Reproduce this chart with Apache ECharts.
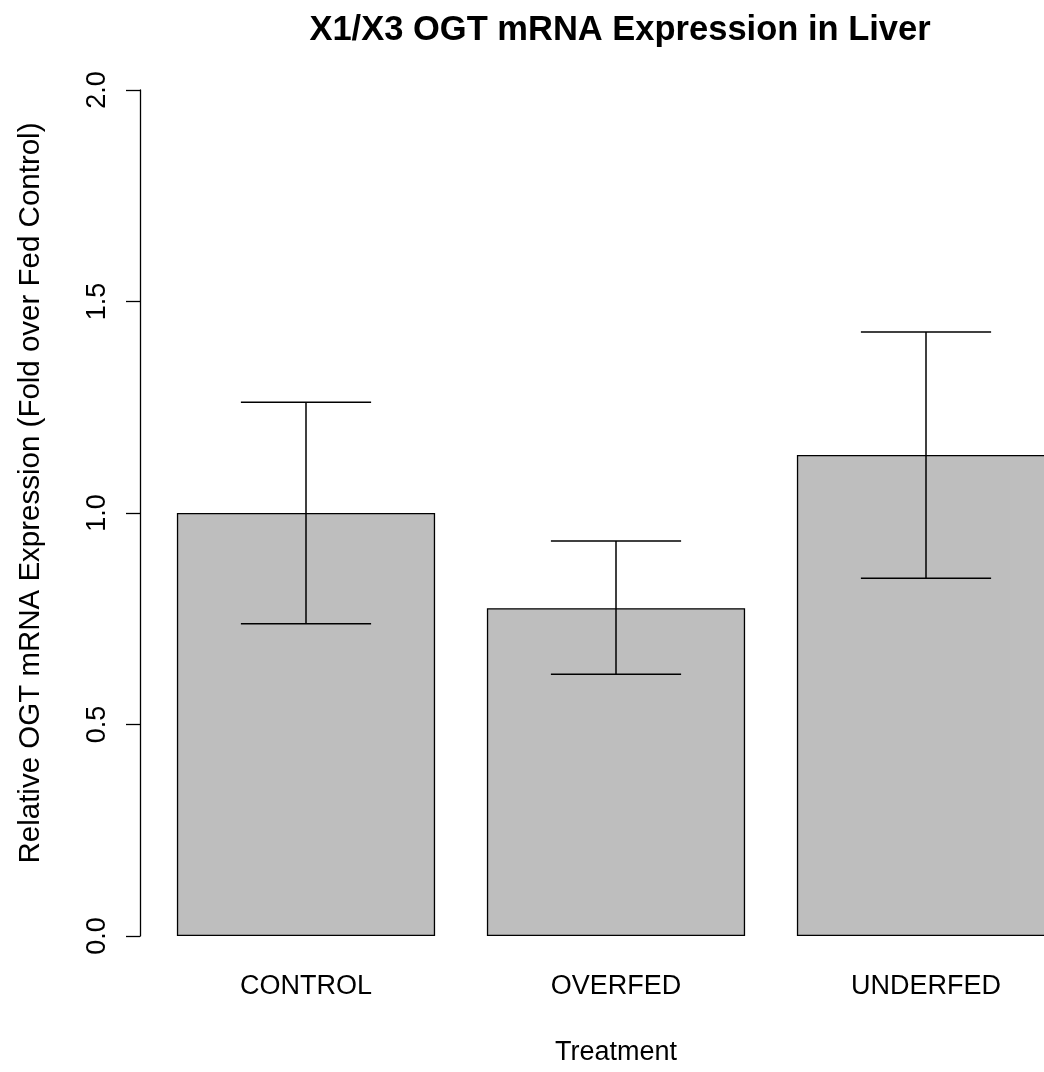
<!DOCTYPE html>
<html>
<head>
<meta charset="utf-8">
<script src="https://cdn.jsdelivr.net/npm/echarts@6/dist/echarts.min.js"></script>
<style>
  html, body { margin: 0; padding: 0; background: #fff; }
  #chart { width: 1044px; height: 1072px; }
</style>
</head>
<body>
<div id="chart"></div>
<script>
// values
const categories = ['CONTROL', 'OVERFED', 'UNDERFED'];
const means = [1.0, 0.775, 1.137];
const errLow = [0.738, 0.619, 0.846];
const errHigh = [1.262, 0.934, 1.428];
const yTicks = [0, 0.5, 1.0, 1.5, 2.0];

const FONT = "'Liberation Sans', Arial, sans-serif";

const errData = categories.map((c, i) => [i, errLow[i], errHigh[i]]);

const chart = echarts.init(document.getElementById('chart'));

const option = {
    backgroundColor: '#fff',
    animation: false,
    title: {
        text: 'X1/X3 OGT mRNA Expression in Liver',
        left: 615,
        top: 8,
        textAlign: 'center',
        textStyle: { fontFamily: FONT, fontSize: 34.5, fontWeight: 'bold', color: '#000' }
    },
    graphic: [{
        type: 'text',
        x: 31,
        y: 493,
        rotation: Math.PI / 2,
        style: {
            text: 'Relative OGT mRNA Expression (Fold over Fed Control)',
            fontFamily: FONT,
            fontSize: 29.5,
            fill: '#000',
            align: 'center',
            verticalAlign: 'middle'
        }
    }],
    grid: { left: 151, right: -37, top: 90, bottom: 136, outerBoundsMode: 'none', containLabel: false },
    xAxis: {
        type: 'category',
        data: categories,
        name: 'Treatment',
        nameLocation: 'middle',
        nameGap: 103,
        nameTextStyle: { fontFamily: FONT, fontSize: 27, color: '#000', verticalAlign: 'top' },
        axisLine: { show: false },
        axisTick: { show: false },
        axisLabel: { margin: 37, fontFamily: FONT, fontSize: 27, color: '#000', verticalAlign: 'top' }
    },
    yAxis: {
        type: 'value',
        min: 0,
        max: 2,
        interval: 0.5,
        offset: 11,
        splitLine: { show: false },
        axisLine: { show: true, lineStyle: { color: '#000', width: 1.3 } },
        axisTick: { show: true, length: 14, lineStyle: { color: '#000', width: 1.3 } },
        axisLabel: {
            rotate: 90,
            margin: 29,
            fontFamily: FONT,
            fontSize: 27,
            color: '#000',
            formatter: v => yTicks.includes(v) ? v.toFixed(1) : ''
        }
    },
    series: [
        {
            type: 'bar',
            data: means,
            barWidth: '83.3%',
            itemStyle: { color: '#bebebe', borderColor: '#000', borderWidth: 1.3 }
        },
        {
            type: 'custom',
            data: errData,
            z: 10,
            renderItem: (params, api) => {
                const lo = api.coord([api.value(0), api.value(1)]);
                const hi = api.coord([api.value(0), api.value(2)]);
                const half = api.size([1, 0])[0] * 0.21;
                const style = { stroke: '#000', lineWidth: 1.5 };
                return {
                    type: 'group',
                    children: [
                        { type: 'line', shape: { x1: hi[0], y1: hi[1], x2: lo[0], y2: lo[1] }, style },
                        { type: 'line', shape: { x1: hi[0] - half, y1: hi[1], x2: hi[0] + half, y2: hi[1] }, style },
                        { type: 'line', shape: { x1: lo[0] - half, y1: lo[1], x2: lo[0] + half, y2: lo[1] }, style }
                    ]
                };
            }
        }
    ]
};

chart.setOption(option);
</script>
</body>
</html>
